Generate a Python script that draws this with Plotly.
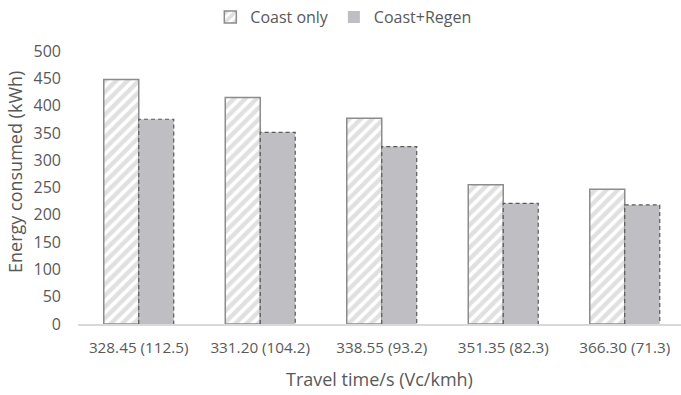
import plotly.graph_objects as go

# Energy consumption per run: coasting only vs coasting with regenerative braking
categories = ["328.45 (112.5)", "331.20 (104.2)", "338.55 (93.2)", "351.35 (82.3)", "366.30 (71.3)"]
coast_only = [448, 415, 377, 255, 247]
coast_regen = [375, 351, 325, 221, 218]

BAR_W = 0.288
TEXT = "#595959"
FONT = "Open Sans"

xpos = list(range(len(categories)))

fig = go.Figure()

fig.add_trace(go.Bar(
    name="Coast only", x=xpos, y=coast_only, width=BAR_W, offset=-BAR_W,
    marker=dict(color="white",
                line=dict(color="#8c8c8c", width=1.5),
                pattern=dict(shape="/", fgcolor="#c2c2c2", bgcolor="white",
                             size=8, solidity=0.55)),
))
fig.add_trace(go.Bar(
    name="Coast+Regen", x=xpos, y=coast_regen, width=BAR_W, offset=0,
    marker=dict(color="#bfbfc3", line=dict(color="#7f7f7f", width=0.01)),
))

# dashed outlines around the Coast+Regen bars
ox, oy = [], []
for i, v in zip(xpos, coast_regen):
    ox += [i, i, i + BAR_W, i + BAR_W, None]
    oy += [0, v, v, 0, None]
fig.add_trace(go.Scatter(
    x=ox, y=oy, mode="lines", showlegend=False, hoverinfo="skip",
    line=dict(color="#595959", width=1.2, dash="4px,3px"),
))

fig.update_layout(
    width=681, height=395,
    margin=dict(l=78, r=0, t=51, b=71),
    paper_bgcolor="white", plot_bgcolor="white",
    font=dict(family=FONT, size=15, color=TEXT),
    barmode="overlay",
    legend=dict(orientation="h", x=0.44, xanchor="center", y=1.0, yref="container",
                yanchor="top", font=dict(size=16, color=TEXT),
                itemwidth=30, tracegroupgap=0),
    xaxis=dict(
        tickmode="array", tickvals=xpos, ticktext=categories,
        range=[-0.5, 4.463], showgrid=False, zeroline=False,
        showline=True, linecolor="#d9d9d9", linewidth=2,
        ticks="", tickfont=dict(size=15.3, color=TEXT), ticklabelstandoff=9,
    ),
    yaxis=dict(
        range=[0, 500], dtick=50, showgrid=False, zeroline=False, showline=False,
        ticks="", tickfont=dict(size=16, color=TEXT), ticklabelstandoff=16,
    ),
    annotations=[
        dict(text="Travel time/s (Vc/kmh)", xref="paper", yref="paper",
             x=0.5, y=-0.2015, xanchor="center", yanchor="middle",
             showarrow=False, font=dict(size=18, color=TEXT)),
        dict(text="Energy consumed (kWh)", xref="paper", yref="paper",
             x=-0.1045, y=0.557, xanchor="center", yanchor="middle", textangle=-90,
             showarrow=False, font=dict(size=18, color=TEXT)),
    ],
)

fig.write_html("out.html")
